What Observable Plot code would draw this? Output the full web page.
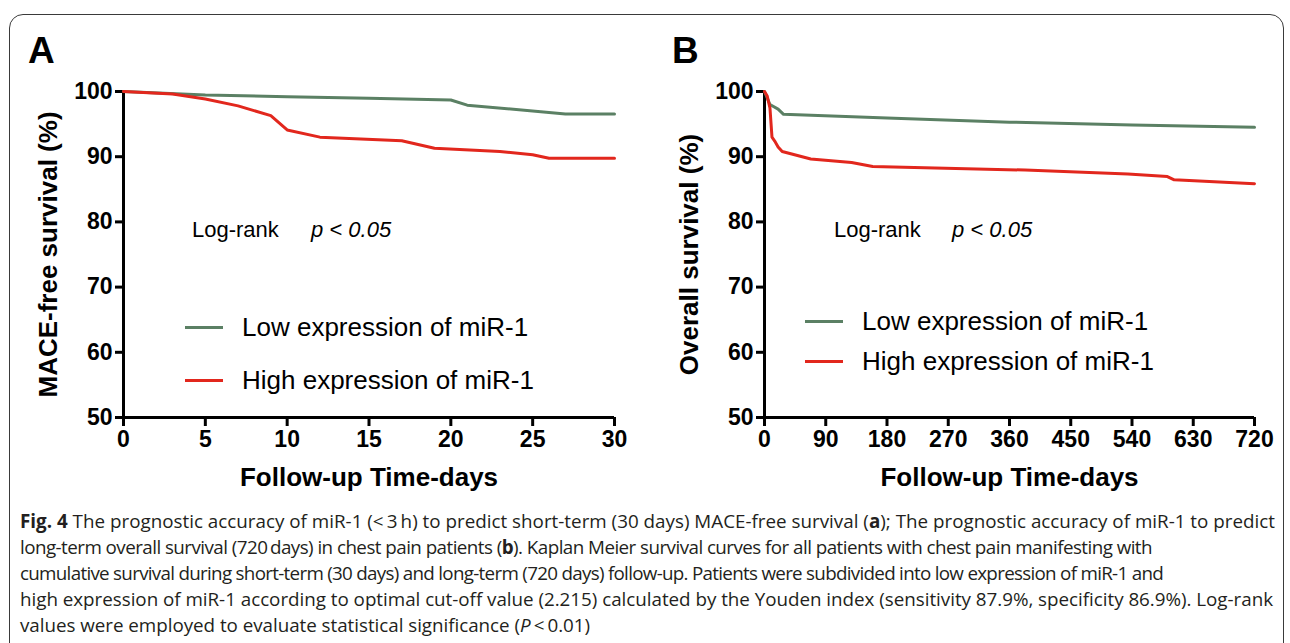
<!DOCTYPE html>
<html><head><meta charset="utf-8">
<script src="https://cdn.jsdelivr.net/npm/d3@7"></script>
<script src="https://cdn.jsdelivr.net/npm/@observablehq/plot@0.6"></script>
<style>
html,body{margin:0;padding:0;background:#fff;width:1290px;height:643px;overflow:hidden;font-family:"Liberation Sans",Arial,sans-serif;color:#000}
#frame{position:absolute;left:9px;top:14px;width:1275px;height:700px;border:1.5px solid #3a3a3a;border-radius:14px;box-sizing:border-box;z-index:2;pointer-events:none}
.panel{position:absolute;top:0;width:645px;height:500px}
.plabel{position:absolute;font-weight:bold;font-size:37px;line-height:1}
.leg{position:absolute;font-size:26px;white-space:nowrap;display:flex;align-items:center;height:30px;line-height:30px}
.leg .sw{display:inline-block;width:38px;height:3px;margin-right:19px}
.lr{position:absolute;font-size:22px;white-space:nowrap;line-height:22px}
.cap{position:absolute;left:20px;font-family:"Open Sans",sans-serif;font-size:15.5px;color:#231f20;white-space:nowrap;line-height:26px}
</style></head>
<body>
<div id="frame"></div>
<div id="pA" class="panel" style="left:0"></div>
<div id="pB" class="panel" style="left:645px"></div>
<div id="overlay"></div>
<div id="caption"></div>
<script>
// ---- data ----
const groups = ["Low expression of miR-1", "High expression of miR-1"];
const colors = ["#5b8064", "#e2271d"];
const yTicks = [50, 60, 70, 80, 90, 100];
const xTicksA = [0, 5, 10, 15, 20, 25, 30];
const xTicksB = [0, 90, 180, 270, 360, 450, 540, 630, 720];

const daysA_low  = [0, 5, 10, 15, 20, 21, 27, 30];
const survA_low  = [100, 99.45, 99.2, 98.95, 98.7, 97.9, 96.55, 96.55];
const daysA_high = [0, 3, 5, 7, 9, 10, 12, 17, 19, 23, 25, 26, 30];
const survA_high = [100, 99.6, 98.85, 97.8, 96.3, 94.1, 93.0, 92.45, 91.3, 90.8, 90.3, 89.75, 89.75];

const daysB_low  = [0, 8, 20, 28, 180, 360, 540, 720];
const survB_low  = [100, 98.0, 97.3, 96.5, 95.95, 95.3, 94.85, 94.5];
const daysB_high = [0, 4, 8, 11, 15, 20, 26, 68, 128, 159, 383, 534, 592, 602, 720];
const survB_high = [100, 99.3, 97.5, 93.0, 92.4, 91.5, 90.8, 89.65, 89.1, 88.5, 87.95, 87.35, 86.95, 86.45, 85.85];

const yLabelA = "MACE-free survival (%)";
const yLabelB = "Overall survival (%)";
const xLabel = "Follow-up Time-days";
const logRank = "Log-rank";
const pText = "p < 0.05";

const captionLines = [
  "<b>Fig. 4</b> The prognostic accuracy of miR-1 (&lt;&#8201;3&#8201;h) to predict short-term (30 days) MACE-free survival (<b>a</b>); The prognostic accuracy of miR-1 to predict",
  "long-term overall survival (720&#8201;days) in chest pain patients (<b>b</b>). Kaplan Meier survival curves for all patients with chest pain manifesting with",
  "cumulative survival during short-term (30 days) and long-term (720 days) follow-up. Patients were subdivided into low expression of miR-1 and",
  "high expression of miR-1 according to optimal cut-off value (2.215) calculated by the Youden index (sensitivity 87.9%, specificity 86.9%). Log-rank",
  "values were employed to evaluate statistical significance (<i>P</i>&#8201;&lt;&#8201;0.01)"
];
const captionEnds = [1275, 1152, 1163, 1273, 590];

function rows(days, vals, g) { return days.map((d, i) => ({day: d, value: vals[i], group: g})); }

function panel(xDomain, xTicks, low, high, yLabel, mL, mR) {
  const data = [...low, ...high];
  return Plot.plot({
    width: 645, height: 500,
    marginLeft: mL, marginRight: mR, marginTop: 91, marginBottom: 83,
    x: {domain: xDomain},
    y: {domain: [50, 100]},
    color: {domain: groups, range: colors},
    style: {fontFamily: "'Liberation Sans', Arial, sans-serif", color: "#000", background: "transparent", overflow: "visible"},
    marks: [
      Plot.axisY({ticks: yTicks, tickSize: 8, tickPadding: 3, strokeWidth: 3, fontSize: 23, fontWeight: "bold", label: null}),
      Plot.axisX({ticks: xTicks, tickSize: 9, tickPadding: 4, strokeWidth: 3, fontSize: 23, fontWeight: "bold", label: null}),
      Plot.ruleX([xDomain[0]], {y1: 50, y2: 100, strokeWidth: 3}),
      Plot.ruleY([50], {x1: xDomain[0], x2: xDomain[1], strokeWidth: 3}),
      Plot.line(data, {x: "day", y: "value", stroke: "group", z: "group", strokeWidth: 3}),
      Plot.text([yLabel], {frameAnchor: "left", rotate: -90, dx: -75, textAnchor: "middle", lineAnchor: "middle", fontSize: 26, fontWeight: "bold"}),
      Plot.text([xLabel], {frameAnchor: "bottom", dy: 60, textAnchor: "middle", lineAnchor: "middle", fontSize: 26, fontWeight: "bold"})
    ]
  });
}

document.getElementById("pA").append(panel([0, 30], xTicksA,
  rows(daysA_low, survA_low, groups[0]), rows(daysA_high, survA_high, groups[1]), yLabelA, 123, 31));
document.getElementById("pB").append(panel([0, 720], xTicksB,
  rows(daysB_low, survB_low, groups[0]), rows(daysB_high, survB_high, groups[1]), yLabelB, 119, 36));

// overlay texts: panel letters, log-rank, legends
const ov = document.getElementById("overlay");
function add(html, cls, style) { const d = document.createElement("div"); d.className = cls; d.innerHTML = html; Object.assign(d.style, style); ov.append(d); return d; }
add("A", "plabel", {left: "28px", top: "32px"});
add("B", "plabel", {left: "672px", top: "32px"});
add(logRank, "lr", {left: "192px", top: "219px"});
add("<i>" + pText + "</i>", "lr", {left: "311px", top: "219px"});
add(logRank, "lr", {left: "834px", top: "219px"});
add("<i>" + pText + "</i>", "lr", {left: "952px", top: "219px"});
const legPos = [[185, 327, 380], [805, 321, 361]];
for (const [lx, y0, y1] of legPos) {
  [y0, y1].forEach((yy, i) => {
    add(`<span class="sw" style="background:${colors[i]}"></span><span>${groups[i]}</span>`, "leg", {left: lx + "px", top: (yy - 15) + "px"});
  });
}

// caption
const cap = document.getElementById("caption");
const capTops = [508, 534, 560, 586, 612];
const capDivs = captionLines.map((t, i) => { const d = document.createElement("div"); d.className = "cap"; d.innerHTML = t; d.style.top = capTops[i] + "px"; cap.append(d); return d; });
const w0 = capDivs[0].getBoundingClientRect().width;
const fs = 15.5 * (1255 / w0);
capDivs.forEach(d => d.style.fontSize = fs + "px");
capDivs.forEach((d, i) => {
  const w = d.getBoundingClientRect().width;
  const n = d.textContent.length;
  const target = captionEnds[i] - 20;
  d.style.letterSpacing = ((target - w) / n) + "px";
});
</script>
</body></html>
